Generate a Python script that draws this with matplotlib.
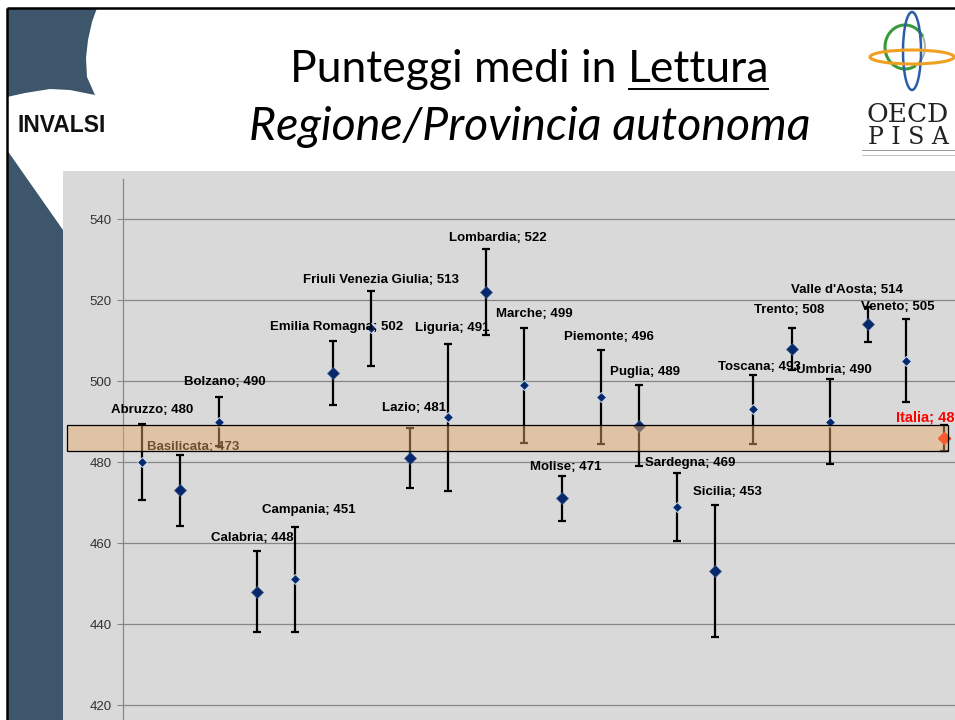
import matplotlib
matplotlib.use("Agg")
import matplotlib.pyplot as plt
from matplotlib.patches import Rectangle, Polygon, Ellipse, Arc

# --- data ---
regions = ["Abruzzo", "Basilicata", "Bolzano", "Calabria", "Campania", "Emilia Romagna",
           "Friuli Venezia Giulia", "Lazio", "Liguria", "Lombardia", "Marche", "Molise",
           "Piemonte", "Puglia", "Sardegna", "Sicilia", "Toscana", "Trento", "Umbria",
           "Valle d'Aosta", "Veneto", "Italia"]
scores = [480, 473, 490, 448, 451, 502, 513, 481, 491, 522, 499, 471,
          496, 489, 469, 453, 493, 508, 490, 514, 505, 486]
errors = [9.5, 8.7, 6.0, 10.0, 12.9, 8.0, 9.3, 7.5, 18.2, 10.7, 14.2, 5.5,
          11.6, 9.9, 8.4, 16.3, 8.6, 5.2, 10.4, 4.3, 10.2, 3.2]
yticks = [420, 440, 460, 480, 500, 520, 540]

# label placement (data coords) - layout only
label_xy = [(0.26, 492.8, 'center'), (0.13, 483.8, 'left'), (2.17, 499.8, 'center'),
            (2.88, 461.2, 'center'), (4.35, 468.2, 'center'), (5.08, 513.3, 'center'),
            (6.26, 524.9, 'center'), (7.12, 493.3, 'center'), (8.12, 513.1, 'center'),
            (9.32, 535.3, 'center'), (10.26, 516.5, 'center'), (11.10, 478.8, 'center'),
            (12.23, 510.9, 'center'), (13.17, 502.2, 'center'), (14.35, 479.8, 'center'),
            (15.31, 472.6, 'center'), (16.15, 503.5, 'center'), (16.94, 517.6, 'center'),
            (18.12, 502.7, 'center'), (18.46, 522.5, 'center'), (19.79, 518.3, 'center'),
            (19.74, 491.1, 'left')]

W, H = 955, 720
fig = plt.figure(figsize=(W / 100, H / 100), dpi=100)
fig.patch.set_facecolor('white')

# background layer in pixel coordinates
bg = fig.add_axes([0, 0, 1, 1], zorder=0)
bg.set_xlim(0, W)
bg.set_ylim(H, 0)
bg.axis('off')

blue = '#3d566b'
bg.add_patch(Polygon([(7, 8), (97, 8), (92, 22), (88, 40), (86, 58), (87, 77), (95, 95),
                      (70, 90), (50, 89), (25, 93), (7, 97)], closed=True, fc=blue, ec='none'))
bg.add_patch(Polygon([(7, 150), (63, 230), (63, 720), (7, 720)], closed=True, fc=blue, ec='none'))
bg.add_patch(Rectangle((63, 171), W - 63, H - 171, fc='#d9d9d9', ec='none'))
bg.plot([7, W], [8, 8], color='black', lw=1.8, solid_capstyle='butt')
bg.plot([7, 7], [8, H], color='black', lw=1.8, solid_capstyle='butt')

bg.text(62, 125, "INVALSI", fontsize=16.5, fontweight='bold', family='Liberation Sans',
        ha='center', va='center', color='#111111')

# title with underlined word
t1 = bg.text(0, 70, "Punteggi medi in ", fontsize=32, family='Lato', ha='left', va='center')
t2 = bg.text(0, 70, "Lettura", fontsize=32, family='Lato', ha='left', va='center')
bg.text(530, 127, "Regione/Provincia autonoma", fontsize=33.5, family='Lato',
        style='italic', ha='center', va='center')
r = fig.canvas.get_renderer()
w1 = t1.get_window_extent(r).width
w2 = t2.get_window_extent(r).width
x0 = 530 - (w1 + w2) / 2
t1.set_x(x0)
t2.set_x(x0 + w1)
bg.plot([x0 + w1 + 1, x0 + w1 + w2 - 2], [89, 89], color='black', lw=1.4)

# OECD PISA logo (rough)
bg.add_patch(Arc((905, 47), 40, 44, theta1=60, theta2=330, color='#3a9a3a', lw=2.2))
bg.add_patch(Arc((905, 47), 40, 44, theta1=-30, theta2=60, color='#b0b0b0', lw=1.5))
bg.add_patch(Ellipse((912, 51), 18, 78, fc='none', ec='#2c5ea8', lw=1.8))
bg.add_patch(Ellipse((912, 57), 84, 14, fc='none', ec='#f0a020', lw=2.2))
bg.text(908, 115, "OECD", fontsize=19, family='DejaVu Serif', ha='center', va='center',
        color='#222222')
bg.text(908, 138, "P I S A", fontsize=17, family='DejaVu Serif', ha='center', va='center',
        color='#222222')
bg.plot([862, 955], [150, 150], color='#888888', lw=0.6)
bg.plot([862, 955], [155, 155], color='#aaaaaa', lw=0.5)

# chart axes: x -0.5..21.5 -> 123..963 px, y 400..550 -> 786..178.5 px
left_px, right_px = 123, 963.4
top_px, bot_px = 178.5, 786
ax = fig.add_axes([left_px / W, 1 - bot_px / H, (right_px - left_px) / W, (bot_px - top_px) / H],
                  zorder=1)
ax.set_facecolor('none')
ax.set_xlim(-0.5, 21.5)
ax.set_ylim(400, 550)

grid_c = '#868686'
for v in yticks:
    ax.axhline(v, color=grid_c, lw=0.9, zorder=0)
ax.set_yticks(yticks)
ax.set_yticklabels([str(v) for v in yticks], fontsize=9.5, family='Liberation Sans', color='#333333')
ax.tick_params(axis='y', length=4, color=grid_c, pad=4)
ax.set_xticks([])
for s in ['top', 'right', 'bottom']:
    ax.spines[s].set_visible(False)
ax.spines['left'].set_color(grid_c)
ax.spines['left'].set_linewidth(0.9)

xs = list(range(len(regions)))
ax.errorbar(xs, scores, yerr=errors, fmt='none', ecolor='black', elinewidth=1.6,
            capsize=3, capthick=1.6, zorder=2)
for i, (x, y) in enumerate(zip(xs, scores)):
    if regions[i] == "Italia":
        ax.plot(x, y, 'D', color='#ff1a00', ms=6, mec='#ff1a00', zorder=3, clip_on=False)
    elif i % 2 == 1:
        ax.plot(x, y, 'D', color='#06286b', ms=6.5, mec='#3a5a8a', mew=0.5, zorder=3)
    else:
        ax.plot(x, y, 'D', color='#06286b', ms=5, mec='#c8dcf0', mew=0.7, zorder=3)

for i, name in enumerate(regions):
    lx, ly, ha = label_xy[i]
    is_it = name == "Italia"
    ax.text(lx, ly, f"{name}; {scores[i]}", fontsize=10.5 if is_it else 9.5, fontweight='bold',
            family='Liberation Sans', color='red' if is_it else 'black', ha=ha, va='center',
            zorder=6 if i != 1 else 2, clip_on=False)

# national confidence band (Italia)
it = regions.index("Italia")
band_lo = scores[it] - errors[it]
band_hi = scores[it] + errors[it]
ax.add_patch(Rectangle((-1.96, band_lo), 21.1 + 1.96, band_hi - band_lo,
                       fc=(234 / 255, 170 / 255, 106 / 255, 0.47), ec='black', lw=0.9,
                       zorder=5, clip_on=False))

fig.savefig("out.png", dpi=100)
